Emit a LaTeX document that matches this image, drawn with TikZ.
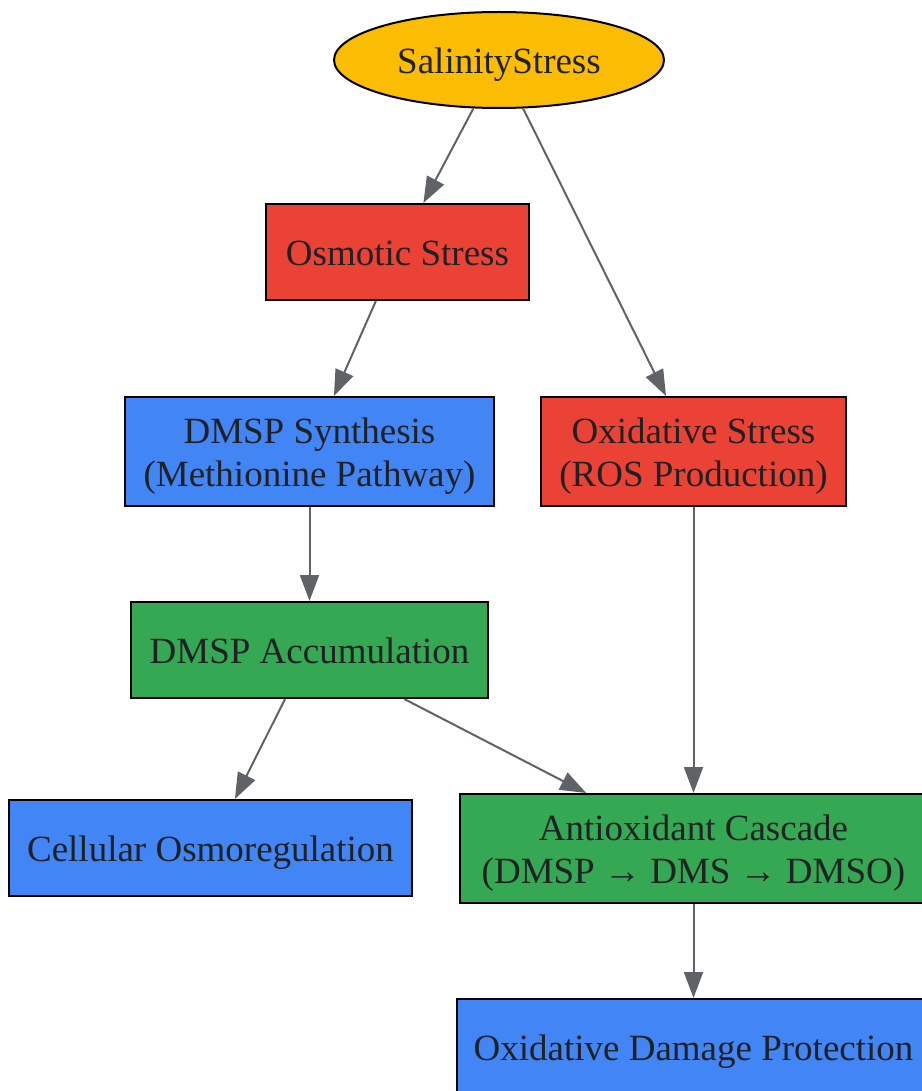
\documentclass[tikz,border=0pt]{standalone}
\usepackage{fontspec}
\setmainfont{Liberation Serif}
\usetikzlibrary{shapes.geometric,arrows.meta}
\definecolor{gold}{HTML}{FBBC04}
\definecolor{gred}{HTML}{EA4335}
\definecolor{gblue}{HTML}{4285F4}
\definecolor{ggreen}{HTML}{34A853}
\definecolor{txt}{HTML}{202124}
\definecolor{edge}{HTML}{5F6368}
\begin{document}
\begin{tikzpicture}[x=1pt,y=-1pt,
  box/.style={draw=black,line width=2pt,inner sep=0pt,align=center,text=txt,
    font=\fontsize{37}{43}\selectfont},
  one/.style={box,text height=27pt,text depth=0pt},
  two/.style={box,text height=69pt,text depth=0pt},
  oval/.style={one,ellipse},
  conn/.style={draw=edge,line width=2pt,-{Triangle[length=26pt,width=19pt]}}]
\useasboundingbox (0,0) rectangle (921,1091);
\node[oval,fill=gold,minimum width=330pt,minimum height=96pt] (sal) at (499,60) {SalinityStress};
\node[one,fill=gred,minimum width=263pt,minimum height=96pt] (osm) at (397.5,252) {Osmotic Stress};
\node[two,fill=gblue,minimum width=369pt,minimum height=109pt] (syn) at (309.5,451.5) {DMSP Synthesis\\(Methionine Pathway)};
\node[two,fill=gred,minimum width=305pt,minimum height=109pt] (oxi) at (693.5,451.5) {Oxidative Stress\\(ROS Production)};
\node[one,fill=ggreen,minimum width=357pt,minimum height=96pt] (acc) at (309.5,650) {DMSP Accumulation};
\node[one,fill=gblue,minimum width=403pt,minimum height=96pt] (cel) at (210.5,848) {Cellular Osmoregulation};
\node[two,fill=ggreen,minimum width=468pt,minimum height=109pt] (ant) at (693.5,848.5) {Antioxidant Cascade\\(DMSP → DMS → DMSO)};
\node[one,fill=gblue,minimum width=474pt,minimum height=96pt] (pro) at (693.5,1047) {Oxidative Damage Protection};
\draw[conn] (sal) -- (osm);
\draw[conn] (sal) -- (oxi);
\draw[conn] (osm) -- (syn);
\draw[conn] (syn) -- (acc);
\draw[conn] (acc) -- (cel);
\draw[conn] (acc) -- (ant);
\draw[conn] (oxi) -- (ant);
\draw[conn] (ant) -- (pro);
\end{tikzpicture}
\end{document}
